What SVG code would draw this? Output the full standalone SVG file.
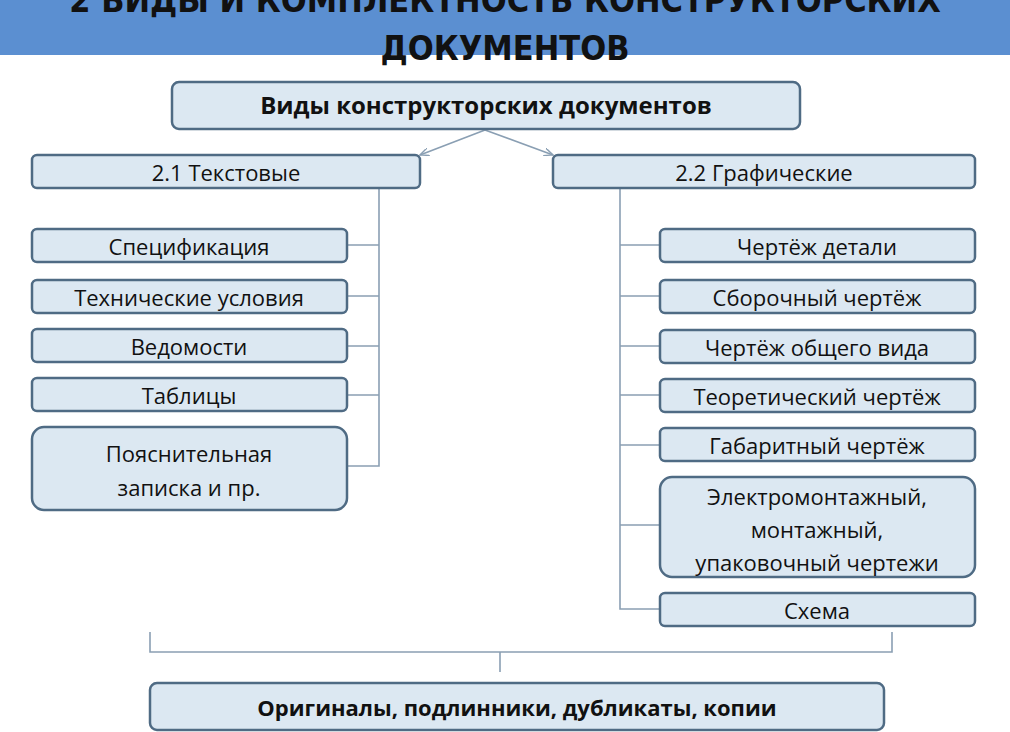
<svg xmlns="http://www.w3.org/2000/svg" width="1010" height="732" viewBox="0 0 1010 732">
<style>
.b{fill:#dce8f2;stroke:#4f6b84;stroke-width:2.5}
.t{font-family:"Open Sans","Noto Sans",sans-serif;font-size:22px;fill:#111;text-anchor:middle}
.h{font-family:"Open Sans","Noto Sans",sans-serif;font-size:24px;font-weight:bold;fill:#111;text-anchor:middle}
.c{stroke:#8a9fb3;stroke-width:1.6;fill:none}
</style>
<defs><marker id="a" markerWidth="10" markerHeight="8" refX="9" refY="4" orient="auto" markerUnits="userSpaceOnUse"><path d="M0,0L9,4L0,8" fill="none" stroke="#8a9fb3" stroke-width="1.4"/></marker></defs>
<rect width="1010" height="732" fill="#fff"/>
<rect x="0" y="0" width="1010" height="55" fill="#5b8fd1"/>
<text x="505" y="12" class="h" style="font-size:34px;font-family:'DejaVu Sans Condensed',sans-serif">2 ВИДЫ И КОМПЛЕКТНОСТЬ КОНСТРУКТОРСКИХ</text>
<text x="505" y="60" class="h" style="font-size:34px;font-family:'DejaVu Sans Condensed',sans-serif">ДОКУМЕНТОВ</text>
<g id="connectors">
<path class="c" d="M485,130L420,155" marker-end="url(#a)"/>
<path class="c" d="M485,130L553,155" marker-end="url(#a)"/>
<path class="c" d="M379,188V466H347M379,245H347M379,296H347M379,346H347M379,395H347"/>
<path class="c" d="M620,188V609H660M620,245H660M620,296H660M620,346H660M620,395H660M620,445H660M620,525H660"/>
<path class="c" d="M150,632V652H892V632M500,652V672"/>
</g>
<g id="root"><rect class="b" x="172" y="82" width="628" height="47" rx="7"/><text class="h" x="486" y="114">Виды конструкторских документов</text></g>
<g id="text"><rect class="b" x="32" y="155" width="388" height="33" rx="5"/><text class="t" x="226" y="181">2.1 Текстовые</text></g>
<g id="graph"><rect class="b" x="553" y="155" width="422" height="33" rx="5"/><text class="t" x="764" y="181">2.2 Графические</text></g>
<g id="l1"><rect class="b" x="32" y="229" width="315" height="33" rx="5"/><text class="t" x="189" y="255">Спецификация</text></g>
<g id="l2"><rect class="b" x="32" y="280" width="315" height="33" rx="5"/><text class="t" x="189" y="306">Технические условия</text></g>
<g id="l3"><rect class="b" x="32" y="329" width="315" height="33" rx="5"/><text class="t" x="189" y="355">Ведомости</text></g>
<g id="l4"><rect class="b" x="32" y="378" width="315" height="33" rx="5"/><text class="t" x="189" y="404">Таблицы</text></g>
<g id="l5"><rect class="b" x="32" y="427" width="315" height="83" rx="12"/><text class="t" x="189" y="462">Пояснительная</text><text class="t" x="189" y="496">записка и пр.</text></g>
<g id="r1"><rect class="b" x="660" y="229" width="315" height="33" rx="5"/><text class="t" x="817" y="255">Чертёж детали</text></g>
<g id="r2"><rect class="b" x="660" y="280" width="315" height="33" rx="5"/><text class="t" x="817" y="306">Сборочный чертёж</text></g>
<g id="r3"><rect class="b" x="660" y="330" width="315" height="33" rx="5"/><text class="t" x="817" y="356">Чертёж общего вида</text></g>
<g id="r4"><rect class="b" x="660" y="379" width="315" height="33" rx="5"/><text class="t" x="817" y="405">Теоретический чертёж</text></g>
<g id="r5"><rect class="b" x="660" y="428" width="315" height="33" rx="5"/><text class="t" x="817" y="454">Габаритный чертёж</text></g>
<g id="r6"><rect class="b" x="660" y="477" width="315" height="100" rx="12"/><text class="t" x="817" y="505">Электромонтажный,</text><text class="t" x="817" y="538">монтажный,</text><text class="t" x="817" y="571">упаковочный чертежи</text></g>
<g id="r7"><rect class="b" x="660" y="593" width="315" height="33" rx="5"/><text class="t" x="817" y="619">Схема</text></g>
<g id="bottom"><rect class="b" x="150" y="683" width="734" height="47" rx="7"/><text class="h" x="517" y="716" style="font-size:22px">Оригиналы, подлинники, дубликаты, копии</text></g>
</svg>
